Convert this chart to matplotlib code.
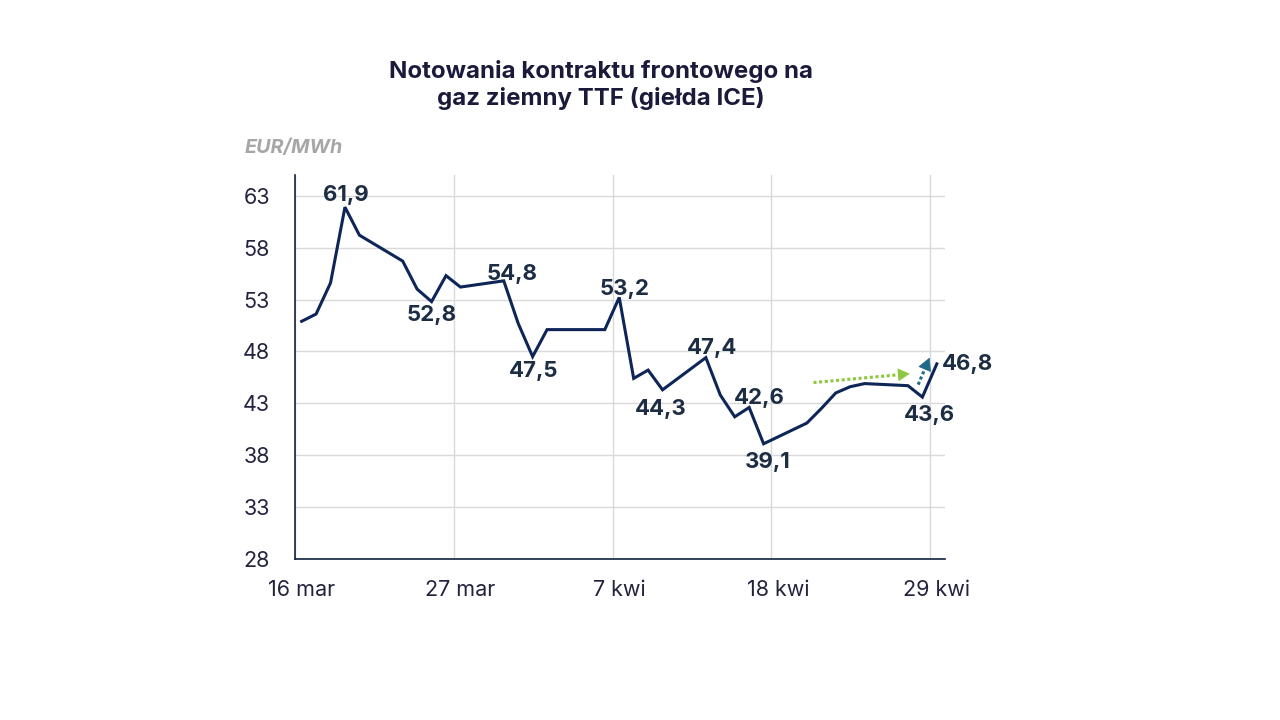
import matplotlib
matplotlib.use("Agg")
import matplotlib.pyplot as plt
import matplotlib.dates as mdates
import pandas as pd

# ---- data ----
dates = ["2026-03-16", "2026-03-17", "2026-03-18", "2026-03-19", "2026-03-20",
         "2026-03-23", "2026-03-24", "2026-03-25", "2026-03-26", "2026-03-27",
         "2026-03-30", "2026-03-31", "2026-04-01", "2026-04-02", "2026-04-03",
         "2026-04-06", "2026-04-07", "2026-04-08", "2026-04-09", "2026-04-10",
         "2026-04-13", "2026-04-14", "2026-04-15", "2026-04-16", "2026-04-17",
         "2026-04-20", "2026-04-21", "2026-04-22", "2026-04-23", "2026-04-24",
         "2026-04-27", "2026-04-28", "2026-04-29"]
values = [50.9, 51.6, 54.6, 61.9, 59.2,
          56.7, 54.0, 52.8, 55.3, 54.2,
          54.8, 50.7, 47.5, 50.1, 50.1,
          50.1, 53.2, 45.4, 46.2, 44.3,
          47.4, 43.8, 41.7, 42.6, 39.1,
          41.1, 42.5, 44.0, 44.6, 44.9,
          44.7, 43.6, 46.8]

tick_dates = ["2026-03-16", "2026-03-27", "2026-04-07", "2026-04-18", "2026-04-29"]
tick_labels = ["16 mar", "27 mar", "7 kwi", "18 kwi", "29 kwi"]
y_ticks = [28, 33, 38, 43, 48, 53, 58, 63]

labelled_dates = ["2026-03-19", "2026-03-25", "2026-03-30", "2026-04-01", "2026-04-07",
                  "2026-04-10", "2026-04-13", "2026-04-16", "2026-04-17", "2026-04-28",
                  "2026-04-29"]
# label centre offsets (points): (dx, dy)
label_offsets = [(0.7, 10.1), (0, -8.3), (6.0, 6.1), (1.0, -8.7), (3.9, 7.6),
                 (-1.2, -12.2), (4.4, 8.6), (7.1, 8.4), (2.9, -11.8), (4.9, -11.2),
                 (22.1, 1.1)]

title = "Notowania kontraktu frontowego na\ngaz ziemny TTF (giełda ICE)"
unit = "EUR/MWh"

# trend arrows (annotation start/end, in data coords)
green_arrow = (("2026-04-20 11:00", 45.0), ("2026-04-27 03:00", 45.85))
blue_arrow = (("2026-04-27 17:00", 44.8), ("2026-04-28 12:00", 47.4))

# ---- style ----
FONT = "Inter"
NAVY = "#0e2558"
TXT = "#1d2e44"
TICK = "#23233f"
GRID = "#d9d9d9"

plt.rcParams['font.family'] = [FONT, 'DejaVu Sans']

fig = plt.figure(figsize=(12.8, 7.2), dpi=100)
ax = fig.add_axes([0.2305, 0.2236, 0.5075, 0.5334])

d = pd.to_datetime(dates)
ax.plot(d, values, color=NAVY, lw=2.2, solid_joinstyle="miter", zorder=3)

ld = pd.to_datetime(labelled_dates)
val_map = dict(zip(d, values))
for dt, (dx, dy) in zip(ld, label_offsets):
    v = val_map[dt]
    ax.annotate(f"{v:.1f}".replace(".", ","), (dt, v), xytext=(dx, dy),
                textcoords="offset points", ha="center", va="center_baseline",
                fontsize=16, fontweight="bold", color=TXT, zorder=4)

# arrows: dotted shaft + solid head
def arr(spec, color, frac, hl, hw):
    (x0, y0), (x1, y1) = spec
    t0, t1 = pd.Timestamp(x0), pd.Timestamp(x1)
    n0, n1 = mdates.date2num(t0), mdates.date2num(t1)
    nm = n0 + (n1 - n0) * frac
    ym = y0 + (y1 - y0) * frac
    ax.plot(mdates.num2date([n0, nm]), [y0, ym], color=color, lw=2.2,
            dashes=(1, 0.85), dash_capstyle="butt", zorder=2)
    nh = n0 + (n1 - n0) * (frac - 0.02)
    yh = y0 + (y1 - y0) * (frac - 0.02)
    ax.annotate("", xy=(mdates.num2date(n1), y1), xytext=(mdates.num2date(nh), yh),
                arrowprops=dict(arrowstyle=f"-|>,head_length={hl},head_width={hw}",
                                color=color, lw=0.5, mutation_scale=14,
                                shrinkA=0, shrinkB=0),
                zorder=2)
arr(green_arrow, "#8dc63f", 0.9, 0.55, 0.3)
arr(blue_arrow, "#1f6a89", 0.72, 0.6, 0.32)

half = pd.Timedelta(hours=11)
ax.set_xlim(d[0] - half, d[-1] + pd.Timedelta(hours=13))
ax.set_ylim(28, 65)

td = pd.to_datetime(tick_dates)
ax.set_xticks(td)
ax.set_xticklabels(tick_labels)
ax.set_xticks([t - half for t in td], minor=True)
ax.set_yticks(y_ticks)
ax.set_yticklabels([str(t) for t in y_ticks])

ax.grid(False)
ax.xaxis.grid(True, which="minor", color=GRID, lw=1)
ax.yaxis.grid(True, which="major", color=GRID, lw=1)
ax.set_axisbelow(True)

ax.tick_params(axis="both", which="both", length=0, labelsize=15.5, colors=TICK)
ax.tick_params(axis="x", pad=15)
ax.tick_params(axis="y", pad=18)

for s in ["top", "right"]:
    ax.spines[s].set_visible(False)
for s in ["left", "bottom"]:
    ax.spines[s].set_color("#0e2240")
    ax.spines[s].set_linewidth(1.2)

fig.text(0.4695, 0.882, title, ha="center", va="center", fontsize=17.3,
         fontweight="bold", color="#1a1a3a", linespacing=1.2)
fig.text(0.191, 0.794, unit, ha="left", va="center", fontsize=14.2,
         fontweight="bold", fontstyle="italic", color="#a6a6a6")

fig.savefig("out.png", dpi=100)
